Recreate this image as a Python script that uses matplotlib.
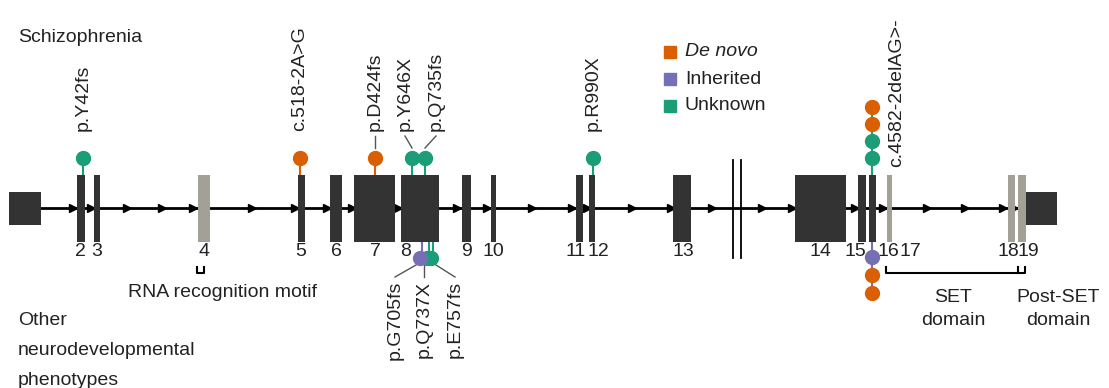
import matplotlib.pyplot as plt
from matplotlib.lines import Line2D

plt.rcParams['font.family'] = ['Liberation Sans', 'DejaVu Sans']

# exon boundaries along the gene (pixel scale of the original panel)
exon_left = [9, 77, 94, 198, 298, 330, 354, 401, 462, 491, 576, 589, 673, 795, 858, 869, 887, 1008, 1018, 1026]
exon_right = [41, 85, 100, 210, 305, 342, 395, 439, 471, 496, 583, 595, 691, 846, 866, 876, 892, 1015, 1026, 1057]
exon_kind = ['utr', 'cds', 'cds', 'dom', 'cds', 'cds', 'cds', 'cds', 'cds', 'cds', 'cds', 'cds', 'cds',
             'cds', 'cds', 'cds', 'dom', 'dom', 'dom', 'utr']

exon_numbers = ['2', '3', '4', '5', '6', '7', '8', '9', '10', '11', '12', '13', '14', '15', '16', '17', '18', '19']
exon_number_x = [80, 97, 204, 301, 336, 375, 406, 466, 493, 576, 598, 683, 820, 855, 888, 910, 1008, 1028]

# direction arrows on the intron line
arrow_x = [73, 91, 127, 162, 193, 252, 295, 327, 352, 398, 457, 487, 532, 572, 587, 632, 671, 712,
           762, 792, 855, 883, 927, 965, 1003, 1014]

# schizophrenia variants (top)
top_names = ['p.Y42fs', 'c.518-2A>G', 'p.D424fs', 'p.Y646X', 'p.Q735fs', 'p.R990X']
top_pos = [83, 300, 375, 412, 425, 593]
top_type = ['Unknown', 'De novo', 'De novo', 'Unknown', 'Unknown', 'Unknown']
top_label_x = [83, 300, 375, 405, 436, 593]

# stacked splice-site variant c.4582-2delAG>-
splice_pos = 872
splice_top_types = ['De novo', 'De novo', 'Unknown', 'Unknown']
splice_bottom_types = ['Inherited', 'De novo', 'De novo']

# other neurodevelopmental phenotypes (bottom)
bottom_names = ['p.G705fs', 'p.Q737X', 'p.E757fs']
bottom_pos = [420, 427, 431]
bottom_type = ['Inherited', 'Unknown', 'Unknown']
bottom_label_x = [395, 424, 455]

colors = {'De novo': '#D95F02', 'Inherited': '#7570B3', 'Unknown': '#1B9E77'}
dark = '#333333'
grey = '#a3a197'

fig = plt.figure(figsize=(11.09, 3.88), dpi=100)
ax = fig.add_axes([0, 0, 1, 1])
ax.set_xlim(0, 1109)
ax.set_ylim(388, 0)
ax.axis('off')

yc = 208
fs = 14

# intron line + arrows
ax.plot([exon_right[0], exon_left[-1]], [yc, yc], color='black', lw=2, zorder=1)
ax.plot(arrow_x, [yc] * len(arrow_x), ls='none', marker='>', ms=6, color='black', zorder=2)

# exons
for l, r, k in zip(exon_left, exon_right, exon_kind):
    if k == 'utr':
        ax.add_patch(plt.Rectangle((l, 192), r - l, 33, color=dark, lw=0, zorder=3))
    else:
        c = dark if k == 'cds' else grey
        ax.add_patch(plt.Rectangle((l, 175), r - l, 67, color=c, lw=0, zorder=3))

# break marks
for bx in [733, 741]:
    ax.plot([bx, bx], [160, 258], color='black', lw=1.3, zorder=4)

for t, x in zip(exon_numbers, exon_number_x):
    ax.text(x, 256, t, ha='center', va='baseline', fontsize=fs, color='#222222')

# top variants
for name, x, typ, lx in zip(top_names, top_pos, top_type, top_label_x):
    ax.plot([x, x], [158, 176], color=colors[typ], lw=1.5, zorder=2)
    ax.plot(x, 158, 'o', ms=10, color=colors[typ], zorder=5)
    if lx == x and name not in ('p.D424fs',):
        ax.text(lx, 131, name, rotation=90, ha='center', va='bottom', fontsize=fs, color='#222222')
    else:
        ax.plot([lx, x], [136, 148], color='#555555', lw=1)
        ax.text(lx, 131, name, rotation=90, ha='center', va='bottom', fontsize=fs, color='#222222')

# splice stack
ax.plot([splice_pos, splice_pos], [107, 176], color=colors['Unknown'], lw=1.5, zorder=2)
for i, typ in enumerate(splice_top_types):
    ax.plot(splice_pos, 107 + i * 17, 'o', ms=10, color=colors[typ], zorder=5)
ax.text(897, 167, 'c.4582-2delAG>-', rotation=90, ha='center', va='bottom', fontsize=fs, color='#222222')
ax.plot([splice_pos, splice_pos], [242, 293], color=colors['Inherited'], lw=1.5, zorder=2)
for i, typ in enumerate(splice_bottom_types):
    ax.plot(splice_pos, 257 + i * 18, 'o', ms=10, color=colors[typ], zorder=5)

# bottom variants
for name, x, typ, lx in zip(bottom_names, bottom_pos, bottom_type, bottom_label_x):
    ax.plot([x + 2, x + 2], [242, 258], color=colors[typ], lw=1.5, zorder=2)
for name, x, typ, lx in reversed(list(zip(bottom_names, bottom_pos, bottom_type, bottom_label_x))):
    ax.plot(x, 258, 'o', ms=10, color=colors[typ], zorder=5)
for name, lx, tx in zip(bottom_names, bottom_label_x, [416, 424, 436]):
    ax.plot([lx, tx], [277, 265], color='#555555', lw=1)
    ax.text(lx, 281, name, rotation=90, ha='center', va='top', fontsize=fs, color='#222222')

# domain brackets
ax.plot([197, 197, 204, 204], [267, 273, 273, 267], color='black', lw=1.5)
ax.text(222, 297, 'RNA recognition motif', ha='center', va='baseline', fontsize=fs, color='#222222')
ax.plot([886, 886, 1025, 1025], [267, 273, 273, 267], color='black', lw=1.5)
ax.plot([1018, 1018], [267, 273], color='black', lw=1.5)
ax.text(953, 302, 'SET', ha='center', va='baseline', fontsize=fs, color='#222222')
ax.text(953, 325, 'domain', ha='center', va='baseline', fontsize=fs, color='#222222')
ax.text(1058, 302, 'Post-SET', ha='center', va='baseline', fontsize=fs, color='#222222')
ax.text(1058, 325, 'domain', ha='center', va='baseline', fontsize=fs, color='#222222')

# section titles
ax.text(18, 42, 'Schizophrenia', ha='left', va='baseline', fontsize=fs, color='#222222')
ax.text(18, 325, 'Other', ha='left', va='baseline', fontsize=fs, color='#222222')
ax.text(18, 355, 'neurodevelopmental', ha='left', va='baseline', fontsize=fs, color='#222222')
ax.text(18, 385, 'phenotypes', ha='left', va='baseline', fontsize=fs, color='#222222')

# legend
for i, typ in enumerate(['De novo', 'Inherited', 'Unknown']):
    y = 52 + i * 27
    ax.plot(670, y, 's', ms=8.5, color=colors[typ])
    ax.text(685, y, typ, ha='left', va='center', fontsize=fs, color='#222222',
            style='italic' if typ == 'De novo' else 'normal')

fig.savefig('out.png', dpi=100)
